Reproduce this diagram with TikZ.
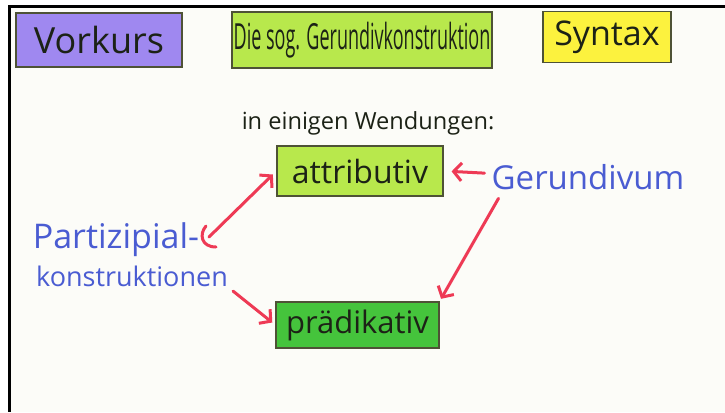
\documentclass[tikz,border=0pt]{standalone}
\usepackage{fontspec}
\setmainfont{Open Sans}
\newfontfamily\schmal[FakeStretch=0.5]{Open Sans}
\usetikzlibrary{arrows.meta}
\usetikzlibrary{positioning}
\definecolor{papier}{HTML}{FCFCF8}
\definecolor{lila}{HTML}{9F88F0}
\definecolor{hellgruen}{HTML}{B8E84C}
\definecolor{gelb}{HTML}{FCF23E}
\definecolor{gruen}{HTML}{45C43C}
\definecolor{rahmen}{HTML}{4E5236}
\definecolor{tinte}{HTML}{1C2216}
\definecolor{blau}{HTML}{4A5CD2}
\definecolor{rot}{HTML}{EE3A55}

\begin{document}
\begin{tikzpicture}[x=1pt, y=-1pt]
\tikzstyle{box}=[draw=rahmen, line width=1.2pt, inner sep=0pt, text=tinte];
\tikzstyle{hand}=[inner sep=0pt, text=blau];
\tikzstyle{pfeil}=[draw=rot, line width=3pt, line cap=round,
                   -{Straight Barb[length=8pt, width=18pt]}];
\useasboundingbox (0,0) rectangle (725,412);
\fill[white] (0,0) rectangle (725,412);
\fill[papier] (9,7) rectangle (725,412);
\draw[line width=3pt] (725,7) -- (9,7) -- (9,412);
% Kopfzeile
\node[box, fill=lila, minimum width=166pt, minimum height=54pt,
      font=\fontsize{36}{40}\selectfont] (vorkurs) at (99,40) {Vorkurs};
\node[box, fill=hellgruen, minimum width=260pt, minimum height=56pt,
      font=\schmal\fontsize{36}{40}\selectfont] (thema) at (362,40) {Die sog. Gerundivkonstruktion};
\node[box, fill=gelb, minimum width=128pt, minimum height=51pt,
      font=\fontsize{34}{38}\selectfont] (syntax) at (607,37) {Syntax};
\node[inner sep=0pt, text=tinte, font=\fontsize{23.6}{28}\selectfont] (wendungen) at (368,123) {in einigen Wendungen:};
% Kaesten
\node[box, fill=hellgruen, minimum width=166pt, minimum height=50pt,
      font=\fontsize{32}{36}\selectfont] (attributiv) at (360,171) {attributiv};
\node[box, fill=gruen, minimum width=163pt, minimum height=46pt,
      font=\fontsize{31}{34}\selectfont] (praedikativ) at (357.5,325) {prädikativ};
% blaue Woerter
\node[hand, font=\fontsize{33}{36}\selectfont] (gerundivum) at (588,177.5) {Gerundivum};
\node[hand, font=\fontsize{34}{38}\selectfont] (partizipial) at (116,240) {Partizipial-};
\node[hand, font=\fontsize{27}{30}\selectfont] (konstruktionen) at (132,276.5) {konstruktionen};
\coordinate (klammer) at (209,237);
% Pfeile
\draw[rot, line width=3pt, line cap=round] (206,226) .. controls (199,234) and (201,247) .. (216,247);
\draw[pfeil, shorten >=5pt] (klammer) -- (attributiv.west);
\draw[pfeil, shorten >=4pt] ([xshift=5pt, yshift=-4pt]konstruktionen.south east) -- (praedikativ.west);
\draw[pfeil, shorten <=7pt, shorten >=8pt] ([yshift=4pt]gerundivum.west) -- (attributiv.east);
\draw[pfeil, shorten >=3pt] ([xshift=7pt, yshift=-8pt]gerundivum.south west) -- (praedikativ.north east);
\end{tikzpicture}
\end{document}
